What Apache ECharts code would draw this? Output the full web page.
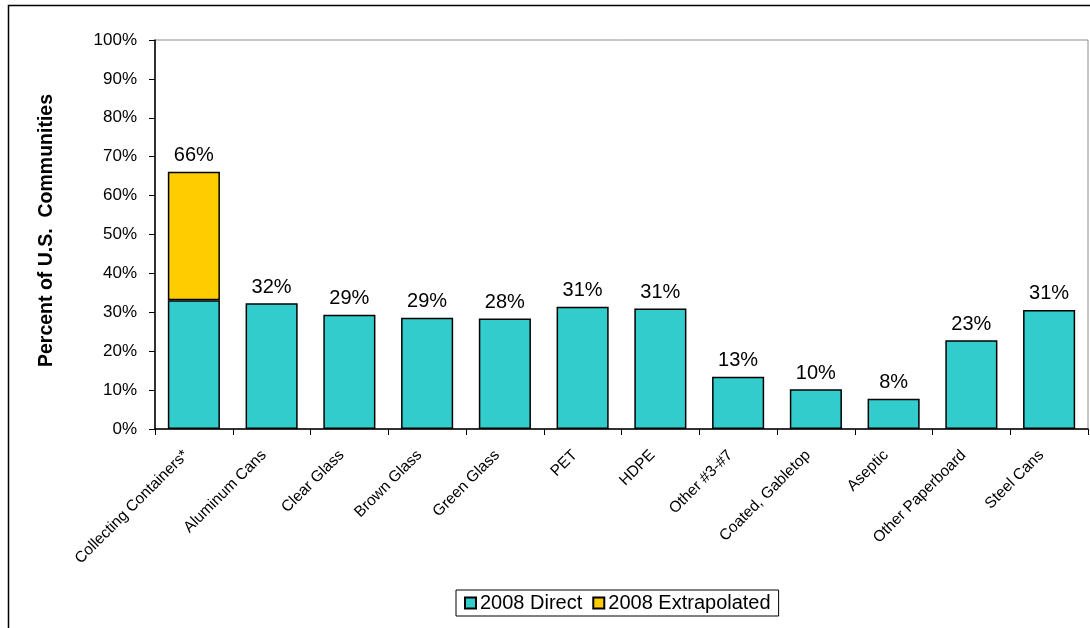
<!DOCTYPE html>
<html>
<head>
<meta charset="utf-8">
<script src="https://cdn.jsdelivr.net/npm/echarts@6/dist/echarts.min.js"></script>
<style>
  html, body { margin: 0; padding: 0; background: #fff; }
  #chart { width: 1090px; height: 628px; }
</style>
</head>
<body>
<div id="chart"></div>
<script>
// Materials collected, share of U.S. communities (percent)
const categories = [
  'Collecting Containers*', 'Aluminum Cans', 'Clear Glass', 'Brown Glass',
  'Green Glass', 'PET', 'HDPE', 'Other #3-#7', 'Coated, Gabletop',
  'Aseptic', 'Other Paperboard', 'Steel Cans'
];
const direct =       [33.1, 32.3, 29.4, 28.6, 28.4, 31.4, 31.0, 13.4, 10.2, 7.8, 22.8, 30.6];
const extrapolated = [33.0, null, null, null, null, null, null, null, null, null, null, null];
const seriesNames = ['2008 Direct', '2008 Extrapolated'];
const yTicks = [0, 10, 20, 30, 40, 50, 60, 70, 80, 90, 100];

const REG = '"Liberation Sans", Arial, sans-serif';

const total = i => (direct[i] || 0) + (extrapolated[i] || 0);
const pct = v => Math.round(v) + '%';

const labelStyle = {
  show: true, position: 'top', distance: 6,
  color: '#000', fontFamily: REG, fontSize: 20,
  formatter: p => pct(total(p.dataIndex))
};

const chart = echarts.init(document.getElementById('chart'), null, { renderer: 'canvas' });
chart.setOption({
  animation: false,
  backgroundColor: '#fff',
  graphic: [{
    type: 'rect', silent: true, z: -1,
    shape: { x: 8.5, y: 5.5, width: 1200, height: 1000 },
    style: { fill: 'none', stroke: '#000', lineWidth: 1.5 }
  }],
  grid: {
    left: 155, top: 40, right: 2, bottom: 199,
    show: true, borderColor: '#8c8c8c', borderWidth: 1, backgroundColor: 'transparent'
  },
  legend: {
    left: 456, top: 590,
    padding: [3, 8, 3, 8],
    borderColor: '#000', borderWidth: 1,
    itemWidth: 11, itemHeight: 11, itemGap: 10,
    icon: 'rect',
    textStyle: { fontFamily: REG, fontSize: 20, color: '#000', padding: [0, 0, 0, -1] },
    data: seriesNames
  },
  xAxis: {
    type: 'category',
    data: categories,
    axisLine: { lineStyle: { color: '#000', width: 1.5 } },
    axisTick: { show: true, length: 6, lineStyle: { color: '#000' } },
    axisLabel: {
      rotate: 45, margin: 16, interval: 0,
      padding: [0, 11, 0, 0],
      fontFamily: REG, fontSize: 15.5, color: '#000'
    },
    splitLine: { show: false }
  },
  yAxis: {
    type: 'value',
    min: yTicks[0], max: yTicks[yTicks.length - 1], interval: 10,
    name: 'Percent of U.S.  Communities',
    nameLocation: 'middle', nameGap: 98,
    nameTextStyle: {
      fontFamily: REG, fontWeight: 'bold', fontSize: 19.5, color: '#000',
      padding: [0, 0, 0, 8]
    },
    axisLine: { show: true, lineStyle: { color: '#000', width: 1.5 } },
    axisTick: { show: true, length: 6, inside: false, lineStyle: { color: '#000' } },
    axisLabel: {
      margin: 18, fontFamily: REG, fontSize: 17, color: '#000',
      formatter: v => v + '%'
    },
    splitLine: { show: false }
  },
  series: [
    {
      name: seriesNames[0], type: 'bar', stack: 'all',
      barCategoryGap: '33%',
      itemStyle: { color: '#33CCCC', borderColor: '#000', borderWidth: 1.5 },
      data: direct.map((v, i) => ({
        value: v,
        label: Object.assign({}, labelStyle, { show: extrapolated[i] == null })
      }))
    },
    {
      name: seriesNames[1], type: 'bar', stack: 'all',
      barCategoryGap: '33%',
      itemStyle: { color: '#FFCC00', borderColor: '#000', borderWidth: 1.5 },
      label: labelStyle,
      data: extrapolated
    }
  ]
});
</script>
</body>
</html>
